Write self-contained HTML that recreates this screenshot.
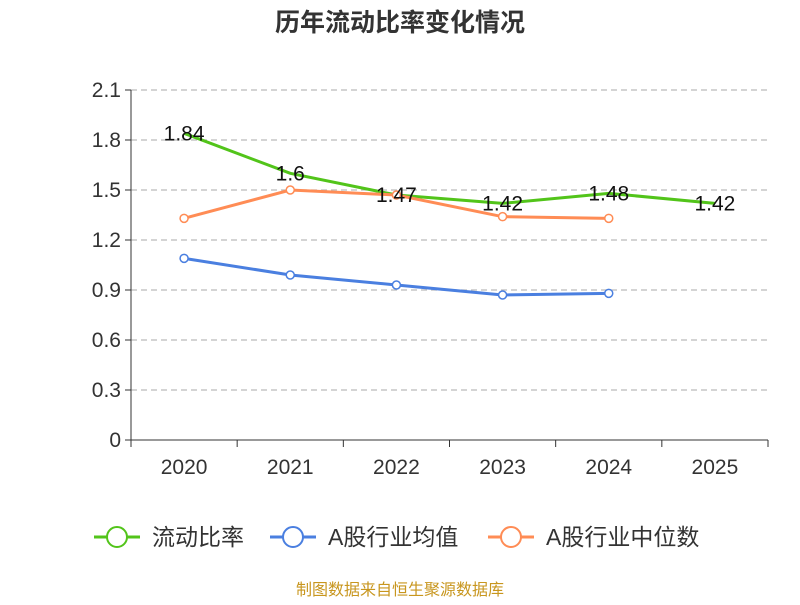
<!DOCTYPE html>
<html><head><meta charset="utf-8"><style>
body{margin:0;background:#fff;}
svg text{font-family:"Liberation Sans","Noto Sans CJK SC",sans-serif;}
</style></head><body>
<svg id="chart" width="800" height="600" xmlns="http://www.w3.org/2000/svg">
<text x="400" y="31" text-anchor="middle" font-size="25" font-weight="bold" fill="#333">历年流动比率变化情况</text>
<g id="grid"></g><g id="axes"></g><g id="series"></g>
<g id="legend"></g>
<text x="400" y="595" text-anchor="middle" font-size="16" fill="#c8961e">制图数据来自恒生聚源数据库</text>
</svg>
<script>
const categories=["2020","2021","2022","2023","2024","2025"];
const yTicks=[0,0.3,0.6,0.9,1.2,1.5,1.8,2.1];
const yTickLabels=["0","0.3","0.6","0.9","1.2","1.5","1.8","2.1"];
const ratioValues=[1.84,1.6,1.47,1.42,1.48,1.42];
const ratioLabels=["1.84","1.6","1.47","1.42","1.48","1.42"];
const avgValues=[1.09,0.99,0.93,0.87,0.88];
const medianValues=[1.33,1.5,1.47,1.34,1.33];
const NS="http://www.w3.org/2000/svg";
const L=131,R=768,T=90,B=440,yMax=2.1;
const bw=(R-L)/categories.length;
const x=i=>L+bw*(i+0.5);
const y=v=>B-(v/yMax)*(B-T);
function mk(tag,attrs,parent){const e=document.createElementNS(NS,tag);for(const k in attrs)e.setAttribute(k,attrs[k]);parent.appendChild(e);return e;}
const grid=document.getElementById('grid'),axes=document.getElementById('axes'),ser=document.getElementById('series'),leg=document.getElementById('legend');
yTicks.forEach((t,i)=>{
  if(t>0){const g=mk('line',{x1:L,x2:R,y1:y(t),y2:y(t),stroke:'#bbb','stroke-dasharray':'6,4','stroke-width':1.3},grid);
  
  }
  const tk=mk('line',{x1:L-6,x2:L,y1:y(t),y2:y(t),stroke:'#333'},axes);
  
  
  const tx=mk('text',{x:L-10,y:y(t)+7,'text-anchor':'end','font-size':21,fill:'#333'},axes);
  tx.textContent=yTickLabels[i];
  
  
});
const ya=mk('line',{x1:L,x2:L,y1:T,y2:B,stroke:'#333'},axes);


const xa=mk('line',{x1:L,x2:R,y1:B,y2:B,stroke:'#333'},axes);


for(let i=0;i<=categories.length;i++){const tk=mk('line',{x1:L+bw*i,x2:L+bw*i,y1:B,y2:B+7,stroke:'#333'},axes);
  
  }
categories.forEach((c,i)=>{const tx=mk('text',{x:x(i),y:B+34,'text-anchor':'middle','font-size':21,fill:'#333'},axes);tx.textContent=c;
  
  });
function series(vals,color,name,markers){
  const p=mk('polyline',{points:vals.map((v,i)=>x(i)+','+y(v)).join(' '),fill:'none',stroke:color,'stroke-width':3},ser);
  
  
  if(markers)vals.forEach((v,i)=>{const c=mk('circle',{cx:x(i),cy:y(v),r:4,fill:'#fff',stroke:color,'stroke-width':1.5},ser);
    
    });
}
series(ratioValues,'#52c41a','ratio',false);
series(avgValues,'#4a7fe0','industry-average',true);
series(medianValues,'#ff8c55','industry-median',true);
ratioValues.forEach((v,i)=>{const tx=mk('text',{x:x(i),y:y(v)+7,'text-anchor':'middle','font-size':21,fill:'#111'},ser);tx.textContent=ratioLabels[i];
  
  });
const legendItems=[["流动比率","#52c41a",94],["A股行业均值","#4a7fe0",270],["A股行业中位数","#ff8c55",488]];
legendItems.forEach(([t,c,lx])=>{
  const g=mk('g',{},leg);
  
  
  mk('line',{x1:lx,x2:lx+46,y1:537,y2:537,stroke:c,'stroke-width':3},g);
  mk('circle',{cx:lx+23,cy:537,r:10,fill:'#fff',stroke:c,'stroke-width':2},g);
  const tx=mk('text',{x:lx+58,y:545,'font-size':23,fill:'#333'},g);tx.textContent=t;
});
</script>
</body></html>
